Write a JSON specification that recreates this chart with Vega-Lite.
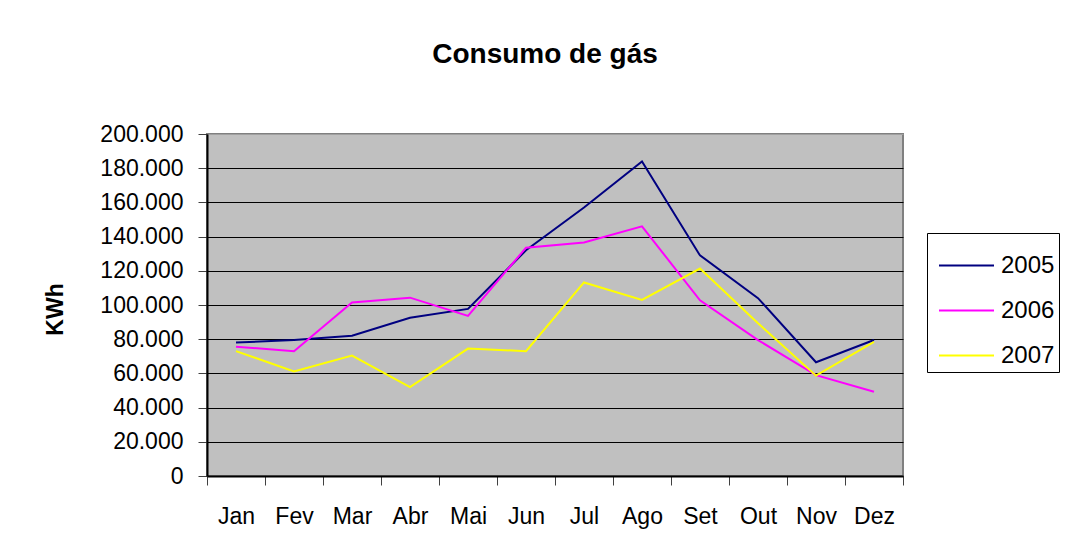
{
  "$schema": "https://vega.github.io/schema/vega-lite/v6.json",
  "width": 696,
  "height": 342,
  "autosize": {"type": "none"},
  "padding": {"left": 207, "top": 134, "right": 163, "bottom": 82},
  "background": "white",
  "title": {"text": "Consumo de gás", "font": "Liberation Sans", "fontSize": 28, "fontWeight": "bold", "color": "black", "anchor": "middle", "dx": -10, "offset": 32, "baseline": "alphabetic"},
  "data": {"values": [
    {"mes": "Jan", "ano": "2005", "kwh": 78000},
    {"mes": "Fev", "ano": "2005", "kwh": 79500},
    {"mes": "Mar", "ano": "2005", "kwh": 82000},
    {"mes": "Abr", "ano": "2005", "kwh": 92500},
    {"mes": "Mai", "ano": "2005", "kwh": 97700},
    {"mes": "Jun", "ano": "2005", "kwh": 132000},
    {"mes": "Jul", "ano": "2005", "kwh": 157000},
    {"mes": "Ago", "ano": "2005", "kwh": 184000},
    {"mes": "Set", "ano": "2005", "kwh": 129000},
    {"mes": "Out", "ano": "2005", "kwh": 104000},
    {"mes": "Nov", "ano": "2005", "kwh": 66500},
    {"mes": "Dez", "ano": "2005", "kwh": 79500},
    {"mes": "Jan", "ano": "2006", "kwh": 75600},
    {"mes": "Fev", "ano": "2006", "kwh": 73000},
    {"mes": "Mar", "ano": "2006", "kwh": 101500},
    {"mes": "Abr", "ano": "2006", "kwh": 104300},
    {"mes": "Mai", "ano": "2006", "kwh": 93600},
    {"mes": "Jun", "ano": "2006", "kwh": 133500},
    {"mes": "Jul", "ano": "2006", "kwh": 136600},
    {"mes": "Ago", "ano": "2006", "kwh": 146000},
    {"mes": "Set", "ano": "2006", "kwh": 102700},
    {"mes": "Out", "ano": "2006", "kwh": 79500},
    {"mes": "Nov", "ano": "2006", "kwh": 59000},
    {"mes": "Dez", "ano": "2006", "kwh": 49300},
    {"mes": "Jan", "ano": "2007", "kwh": 73000},
    {"mes": "Fev", "ano": "2007", "kwh": 61200},
    {"mes": "Mar", "ano": "2007", "kwh": 70400},
    {"mes": "Abr", "ano": "2007", "kwh": 52000},
    {"mes": "Mai", "ano": "2007", "kwh": 74500},
    {"mes": "Jun", "ano": "2007", "kwh": 73000},
    {"mes": "Jul", "ano": "2007", "kwh": 113200},
    {"mes": "Ago", "ano": "2007", "kwh": 103000},
    {"mes": "Set", "ano": "2007", "kwh": 121300},
    {"mes": "Out", "ano": "2007", "kwh": 89300},
    {"mes": "Nov", "ano": "2007", "kwh": 58700},
    {"mes": "Dez", "ano": "2007", "kwh": 78500}
  ]},
  "mark": {"type": "line", "strokeWidth": 2, "clip": false},
  "encoding": {
    "x": {
      "field": "mes", "type": "nominal", "bandPosition": 0.5,
      "sort": ["Jan", "Fev", "Mar", "Abr", "Mai", "Jun", "Jul", "Ago", "Set", "Out", "Nov", "Dez"],
      "scale": {"type": "band", "paddingInner": 0, "paddingOuter": 0},
      "axis": {"title": null, "tickBand": "extent", "labelAngle": 0, "labelFont": "Liberation Sans", "labelFontSize": 23, "labelColor": "black", "labelPadding": 20, "tickSize": 9, "tickColor": "#404040", "domainColor": "black", "domainWidth": 2, "grid": false}
    },
    "y": {
      "field": "kwh", "type": "quantitative",
      "scale": {"domain": [0, 200000], "nice": false},
      "axis": {
        "title": "KWh", "titleFont": "Liberation Sans", "titleFontSize": 23, "titleFontWeight": "bold", "titleColor": "black",
        "titleAngle": -90, "titleX": -152, "titleY": 175, "titleAlign": "center", "titleBaseline": "middle",
        "values": [0, 20000, 40000, 60000, 80000, 100000, 120000, 140000, 160000, 180000, 200000],
        "labelExpr": "replace(format(datum.value, ','), ',', '.')",
        "labelFont": "Liberation Sans", "labelFontSize": 23, "labelColor": "black", "labelPadding": 15,
        "tickSize": 9, "tickColor": "#404040", "grid": true,
        "gridColor": {"condition": {"test": "datum.value === 200000", "value": "#A0A0A0"}, "value": "black"},
        "gridOpacity": 1, "gridWidth": 1, "domainColor": "black", "domainWidth": 2
      }
    },
    "color": {
      "field": "ano", "type": "nominal",
      "scale": {"domain": ["2005", "2006", "2007"], "range": ["#000080", "#FF00FF", "#FFFF00"]},
      "legend": {"title": null, "orient": "none", "legendX": 720, "legendY": 99, "symbolType": "stroke", "symbolSize": 3025, "symbolStrokeWidth": 2, "labelFontSize": 24, "labelFont": "Liberation Sans", "labelColor": "black", "strokeColor": "black", "fillColor": "white", "padding": 4, "rowPadding": 4, "labelOffset": 6, "symbolOffset": 7}
    }
  },
  "config": {"view": {"fill": "#C0C0C0", "stroke": "#808080", "strokeWidth": 2}}
}
